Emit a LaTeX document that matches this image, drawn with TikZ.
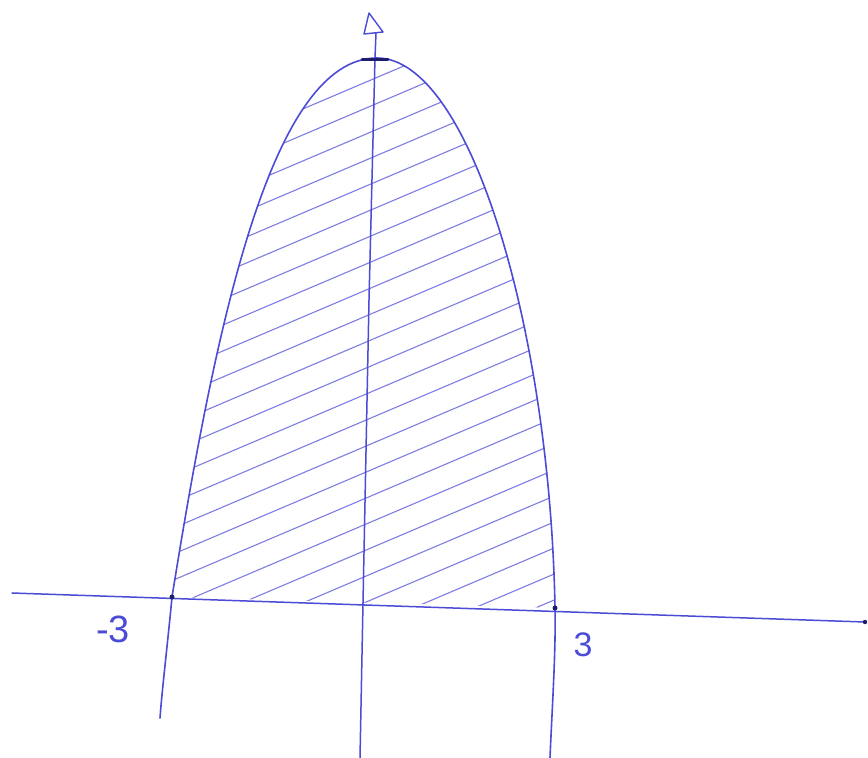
\documentclass[tikz,border=0pt]{standalone}
\usepackage{fontspec}
\setmainfont{Liberation Sans}
\definecolor{pen}{RGB}{75,75,215}
\definecolor{hatch}{RGB}{125,125,228}
\definecolor{ink}{RGB}{30,30,110}
\begin{document}
\begin{tikzpicture}[x=1pt,y=-1pt,
  curve/.style={draw=pen,line width=1.6pt,line cap=round,line join=round},
  axis/.style={draw=pen,line width=1.5pt,line cap=round},
  hatchline/.style={draw=hatch,line width=1.1pt,line cap=round},
  lbl/.style={text=pen,font=\fontsize{38}{38}\selectfont,inner sep=0pt}]
\useasboundingbox (0,0) rectangle (868,758);
\fill[white] (0,0) rectangle (868,758);
\coordinate (L0) at (172,597);
\coordinate (R0) at (555,608);
\coordinate (V) at (377,58);
\coordinate (Lb) at (160,718);
\coordinate (Rb) at (550,758);
% hatching
\begin{scope}
  \clip (L0) .. controls (215,330) and (270,58) .. (V)
             .. controls (470,58) and (550,330) .. (R0) -- cycle;
  \foreach \c in {70,96,...,900}{
    \draw[hatchline] (150,\c) -- (620,\c-200);
  }
\end{scope}
% x-axis
\coordinate (xl) at (12,593);
\coordinate (xr) at (865,622);
\draw[axis] (xl) -- (xr);
\fill[ink] (xr) circle (2.2pt);
% y-axis
\coordinate (yb) at (360,758);
\coordinate (yt) at (376,33);
\draw[axis] (yb) -- (363,603) -- (369,300) -- (375,58) -- (yt);
\draw[pen,line width=1.4pt,line join=round] (369,13) -- (364,34) -- (383,32) -- cycle;
% parabola
\draw[curve] (Lb) .. controls (162,690) and (168,640) .. (L0)
   .. controls (215,330) and (270,58) .. (V)
   .. controls (470,58) and (550,330) .. (R0)
   .. controls (556,650) and (552,710) .. (Rb);
\draw[ink,line width=3pt,line cap=round] (362,59) -- (388,59);
% intersection points
\fill[ink] (L0) circle (2.5pt);
\fill[ink] (R0) circle (2.5pt);
% labels
\node[lbl] (lm3) at (113,629) {-3};
\node[lbl,font=\fontsize{34}{34}\selectfont] (lp3) at (583,645) {3};
\end{tikzpicture}
\end{document}
